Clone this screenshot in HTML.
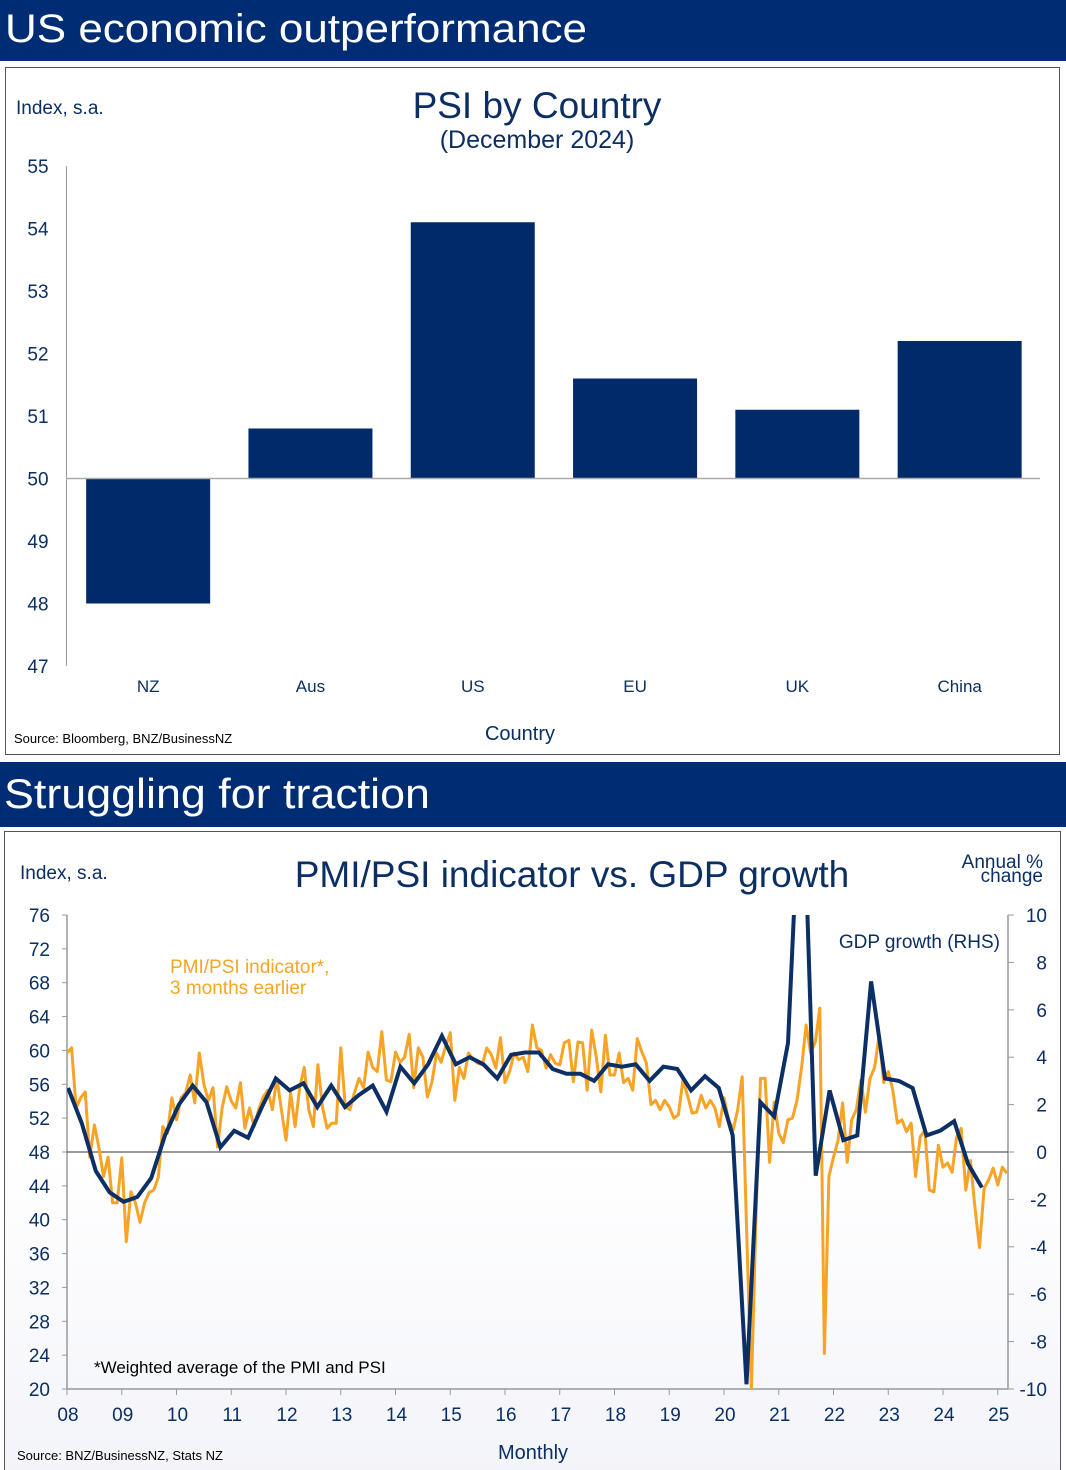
<!DOCTYPE html>
<html><head><meta charset="utf-8"><style>
html,body{margin:0;padding:0;background:#fff;}
svg{display:block;font-family:"Liberation Sans",Arial,sans-serif;}
</style></head><body>
<svg id="page" width="1066" height="1470" viewBox="0 0 1066 1470" xmlns="http://www.w3.org/2000/svg">
<defs>
<clipPath id="plot2clip"><rect x="67" y="915" width="941" height="474"/></clipPath>
<linearGradient id="fade" x1="0" y1="0" x2="0" y2="1"><stop offset="0.5" stop-color="#fff"/><stop offset="1" stop-color="#f3f4f9"/></linearGradient>
</defs>
<rect x="0" y="0" width="1066" height="61" fill="#002c73"/>
<text x="5" y="42" fill="#fff" font-size="40" textLength="582" lengthAdjust="spacingAndGlyphs">US economic outperformance</text>
<rect x="5.5" y="67.5" width="1054" height="687" fill="#fff" stroke="#555" stroke-width="1"/>
<text x="16" y="114" fill="#0b2e63" font-size="19">Index, s.a.</text>
<text x="537" y="118" fill="#0b2e63" font-size="37" text-anchor="middle">PSI by Country</text>
<text x="537" y="148" fill="#0b2e63" font-size="25" text-anchor="middle">(December 2024)</text>
<g id="barchart"></g>
<text x="14" y="743" fill="#000" font-size="13">Source: Bloomberg, BNZ/BusinessNZ</text>
<text x="520" y="740" fill="#0b2e63" font-size="20" text-anchor="middle">Country</text>
<rect x="0" y="762" width="1066" height="65" fill="#002c73"/>
<text x="4" y="808" fill="#fff" font-size="42" textLength="426" lengthAdjust="spacingAndGlyphs">Struggling for traction</text>
<rect x="4.5" y="831.5" width="1056" height="645" fill="url(#fade)" stroke="#555" stroke-width="1"/>
<text x="20" y="879" fill="#0b2e63" font-size="19">Index, s.a.</text>
<text x="572" y="887" fill="#0b2e63" font-size="37" text-anchor="middle">PMI/PSI indicator vs. GDP growth</text>
<text x="1043" y="868" fill="#0b2e63" font-size="19" text-anchor="end">Annual %</text>
<text x="1043" y="882" fill="#0b2e63" font-size="19" text-anchor="end">change</text>
<g id="linechart"></g>
<text x="170" y="973" fill="#f5a623" font-size="19">PMI/PSI indicator*,</text>
<text x="170" y="994" fill="#f5a623" font-size="19">3 months earlier</text>
<text x="1000" y="948" fill="#0b2e63" font-size="19" text-anchor="end">GDP growth (RHS)</text>
<text x="94" y="1373" fill="#000" font-size="17">*Weighted average of the PMI and PSI</text>
<text x="17" y="1460" fill="#000" font-size="13">Source: BNZ/BusinessNZ, Stats NZ</text>
<text x="533" y="1459" fill="#0b2e63" font-size="20" text-anchor="middle">Monthly</text>
</svg>
<script>
const barCategories = ["NZ","Aus","US","EU","UK","China"];
const barValues = [48.0, 50.8, 54.1, 51.6, 51.1, 52.2];
const barTicks = [47,48,49,50,51,52,53,54,55];

const pmiStartYear = 2008;
const pmiValues = [
59.7,60.3,53.2,54.4,55.1,47.4,51.2,48.5,45.1,47.4,42,42,
47.3,37.4,43.3,42,39.7,42,43.2,43.5,45,51,50.2,54.4,
51.8,54.4,55,57.1,53.8,59.7,56,54.1,55.6,48.6,53.2,55.7,
54,53.2,56.2,50.8,53.2,51,53,54.5,55.3,53,56.7,53,
49.4,55,51,55.6,58,53,51,58.3,53.3,50.8,51.4,51.4,
60.3,53.3,53,55,56.7,55.6,59.8,58,57.5,62.2,56.5,56.3,
59.8,58.6,59.2,61.9,55.6,60.3,59.2,54.5,56.3,59.7,58.6,60.5,
62.1,54.1,58,56.7,59.7,59,58.5,58.3,60.3,59.5,57.9,61.5,
56.2,57.5,59.7,58.9,59.2,57.5,63,60.3,60,57.9,59.5,58.5,
58.3,60.9,61.2,56.3,61,60.9,55.3,62.4,59.2,55.1,61.8,57.1,
57.1,59.7,56.2,56.7,55.3,61.4,59.8,58.5,53.6,54.1,53,54.1,
53.3,52,52.4,56.5,54.7,52.6,52.7,54.7,53.2,54.1,53.2,51,
54.4,51.8,50.6,53,56.9,38,20,40,56.7,56.7,46.8,53.9,
50.2,49.1,51.8,52,54.1,58,63,59.7,61,65,24.2,45.1,
47.4,49.4,53.8,46.8,51.8,53,56.5,52.7,56.7,58,61.8,56.2,
57.5,55.3,51.4,51.8,50.4,51.4,45.1,49.8,50.6,43.5,43.3,48.8,
46.2,46.7,45.6,49.8,50.8,43.5,47,41.5,36.7,43.7,44.7,46.1,
44.1,46.2,45.5
];
const gdpValues = [
2.7,1.2,-0.8,-1.7,-2.1,-1.9,-1.1,0.7,2.0,2.8,2.1,0.2,
0.9,0.6,1.9,3.1,2.6,2.9,1.9,2.8,1.9,2.4,2.8,1.7,
3.6,2.9,3.7,4.9,3.7,4.0,3.7,3.1,4.1,4.2,4.2,3.5,
3.3,3.3,3.0,3.7,3.6,3.7,3.0,3.6,3.5,2.6,3.2,2.7,
0.7,-9.8,2.1,1.5,4.6,17.4,-1.0,2.6,0.5,0.7,7.2,3.1,
3.0,2.7,0.7,0.9,1.3,-0.5,-1.5
];
const leftTicks = [20,24,28,32,36,40,44,48,52,56,60,64,68,72,76];
const rightTicks = [-10,-8,-6,-4,-2,0,2,4,6,8,10];
const yearLabels = ["08","09","10","11","12","13","14","15","16","17","18","19","20","21","22","23","24","25"];

const NS = "http://www.w3.org/2000/svg";
function mk(tag, attrs, parent){
  const e = document.createElementNS(NS, tag);
  for (const k in attrs) e.setAttribute(k, attrs[k]);
  parent.appendChild(e);
  return e;
}
const NAVY = "#0b2e63", ORANGE = "#f7a325";

(function(){
  const g = document.getElementById('barchart');
  const yMin = 47, yMax = 55, yTop = 166, yBot = 666;
  const y = v => yBot - (v - yMin) * (yBot - yTop) / (yMax - yMin);
  const x0 = 67, band = 162.3, barW = 124;
  const axis = mk('line',{x1:66.5,y1:166,x2:66.5,y2:666,stroke:'#999','stroke-width':1},g);
  
  
  barTicks.forEach(t=>{
    const tx = mk('text',{x:38,y:y(t)+7,'font-size':19,fill:NAVY,'text-anchor':'middle'},g);
    tx.textContent = t;
    
    
  });
  barCategories.forEach((c,i)=>{
    const v = barValues[i];
    const cx = x0 + band*i + band/2;
    const top = Math.min(y(v), y(50)), h = Math.abs(y(v)-y(50));
    const r = mk('rect',{x:cx-barW/2,y:top,width:barW,height:h,fill:'#002a6a'},g);
    
    
    const lt = mk('text',{x:cx,y:692,'font-size':17,fill:NAVY,'text-anchor':'middle'},g);
    lt.textContent = c;
    
    
  });
  const base = mk('line',{x1:66,y1:y(50),x2:1040,y2:y(50),stroke:'#aaa','stroke-width':1.5},g);
  
  
})();

(function(){
  const g = document.getElementById('linechart');
  const L = 67, R = 1008, T = 915, B = 1389;
  const yl = v => B - (v - 20) * (B - T) / 56;
  const yr = v => B - (v + 10) * (B - T) / 20;
  const pxYear = 54.75;
  const xt = t => L + (t - 2008) * pxYear;
  const la = mk('line',{x1:L,y1:T,x2:L,y2:B,stroke:'#999','stroke-width':1.5},g);
  
  
  const ra = mk('line',{x1:R,y1:T,x2:R,y2:B,stroke:'#999','stroke-width':1.5},g);
  
  
  const xa = mk('line',{x1:L,y1:B,x2:R,y2:B,stroke:'#999','stroke-width':1.5},g);
  
  
  leftTicks.forEach(t=>{
    mk('line',{x1:L-5,y1:yl(t),x2:L,y2:yl(t),stroke:'#999','stroke-width':1},g);
    const tx = mk('text',{x:50,y:yl(t)+7,'font-size':19,fill:NAVY,'text-anchor':'end'},g);
    tx.textContent = t;
    
    
  });
  rightTicks.forEach(t=>{
    mk('line',{x1:R,y1:yr(t),x2:R+6,y2:yr(t),stroke:'#999','stroke-width':1},g);
    const tx = mk('text',{x:1047,y:yr(t)+7,'font-size':19,fill:NAVY,'text-anchor':'end'},g);
    tx.textContent = t;
    
    
  });
  yearLabels.forEach((lab,i)=>{
    const x = xt(2008+i);
    mk('line',{x1:x,y1:B,x2:x,y2:B+6,stroke:'#999','stroke-width':1},g);
    const tx = mk('text',{x:x+1,y:B+32,'font-size':19,fill:NAVY,'text-anchor':'middle'},g);
    tx.textContent = lab;
    
    
  });
  const zero = mk('line',{x1:L,y1:yl(48),x2:R,y2:yl(48),stroke:'#333','stroke-width':1},g);
  
  
  let d = '';
  pmiValues.forEach((v,i)=>{ d += (i?'L':'M') + xt(pmiStartYear + i/12).toFixed(1) + ',' + yl(v).toFixed(1); });
  const pl = mk('path',{d:d,fill:'none',stroke:ORANGE,'stroke-width':3,'stroke-linejoin':'round','clip-path':'url(#plot2clip)'},g);
  
  
  const qStep = (2024.69 - 2008.0) / (gdpValues.length - 1);
  let d2 = '';
  gdpValues.forEach((v,i)=>{ d2 += (i?'L':'M') + xt(2008.02 + i*qStep).toFixed(1) + ',' + yr(v).toFixed(1); });
  const gl = mk('path',{d:d2,fill:'none',stroke:'#0c2f66','stroke-width':4,'stroke-linejoin':'miter','clip-path':'url(#plot2clip)'},g);
  
  
})();
</script>
</body></html>
